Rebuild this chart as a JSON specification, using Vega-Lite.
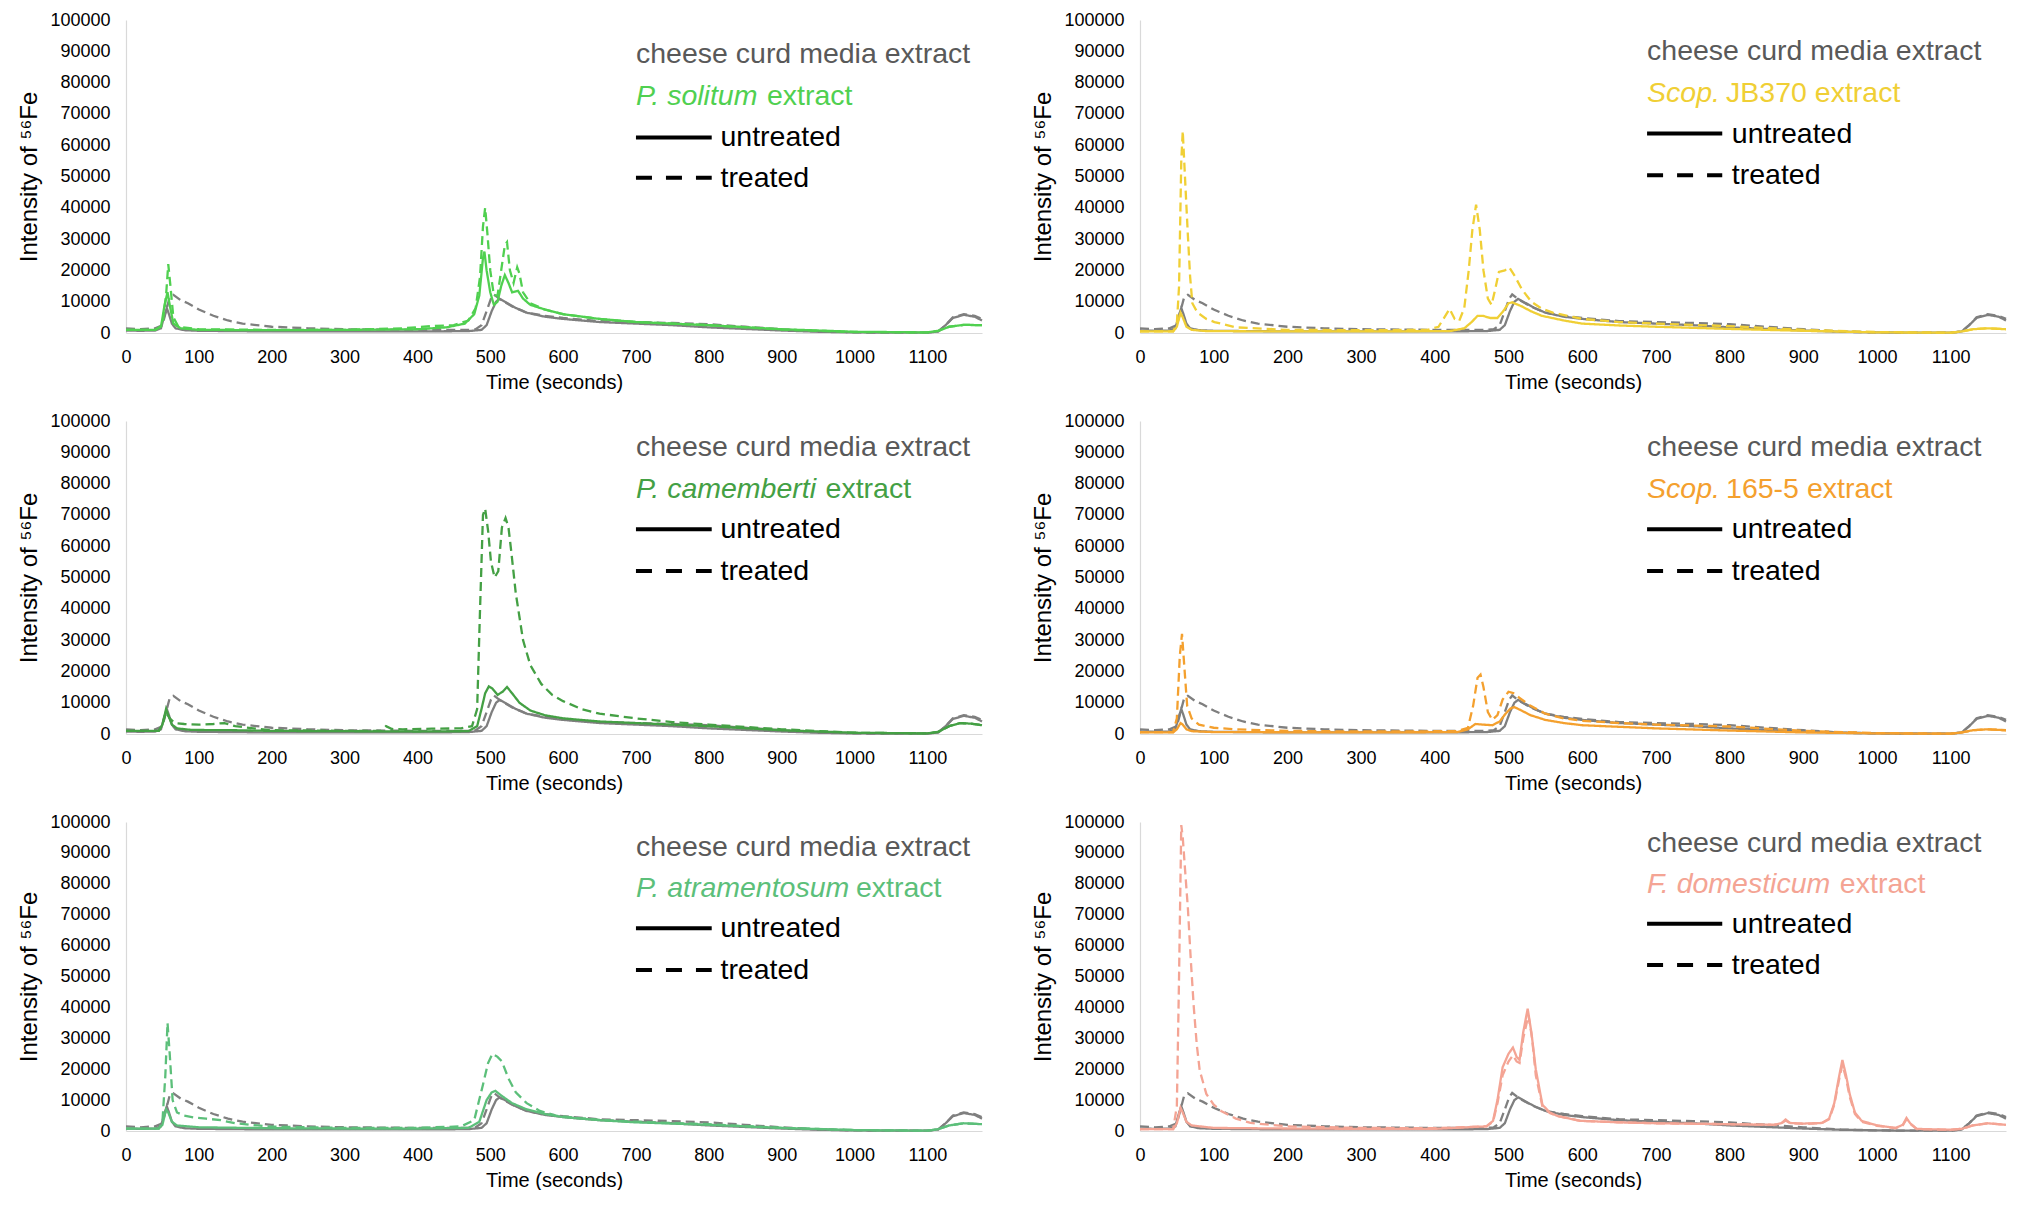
{
"$schema":"https://vega.github.io/schema/vega-lite/v6.json",
"background":"white",
"padding":{"left":17,"top":11,"right":0,"bottom":0},
"columns":2,
"spacing":{"row":20,"column":44},
"config":{"view":{"stroke":null},"font":"Liberation Sans",
"axis":{"grid":false,"ticks":false,"domainColor":"#d9d9d9","domainWidth":1.2,"labelFont":"Liberation Sans","labelFontSize":18,"labelColor":"#000","titleFont":"Liberation Sans","titleFontWeight":"normal","titleColor":"#000","labelFlush":false,"format":"d"},
"axisX":{"tickCount":12,"labelPadding":15,"titlePadding":6,"titleFontSize":20},
"axisY":{"tickCount":10,"labelPadding":16,"titlePadding":8,"titleFontSize":24},
"text":{"font":"Liberation Sans","fontSize":28.5,"align":"left","baseline":"middle"}},
"datasets":{
"grey":[
{"s":"untreated","t":0,"v":800},{"s":"untreated","t":20,"v":700},{"s":"untreated","t":40,"v":800},{"s":"untreated","t":48,"v":1500},{"s":"untreated","t":52,"v":5000},{"s":"untreated","t":56,"v":8000},{"s":"untreated","t":59,"v":6000},{"s":"untreated","t":63,"v":3000},{"s":"untreated","t":68,"v":1500},{"s":"untreated","t":80,"v":900},{"s":"untreated","t":100,"v":700},{"s":"untreated","t":150,"v":600},{"s":"untreated","t":200,"v":500},{"s":"untreated","t":300,"v":500},{"s":"untreated","t":400,"v":500},{"s":"untreated","t":470,"v":600},{"s":"untreated","t":488,"v":1000},{"s":"untreated","t":495,"v":2500},{"s":"untreated","t":502,"v":7000},{"s":"untreated","t":508,"v":10000},{"s":"untreated","t":513,"v":10900},{"s":"untreated","t":520,"v":10000},{"s":"untreated","t":535,"v":8000},{"s":"untreated","t":550,"v":6500},{"s":"untreated","t":575,"v":5200},{"s":"untreated","t":600,"v":4500},{"s":"untreated","t":650,"v":3500},{"s":"untreated","t":700,"v":3000},{"s":"untreated","t":750,"v":2500},{"s":"untreated","t":800,"v":1800},{"s":"untreated","t":850,"v":1300},{"s":"untreated","t":900,"v":800},{"s":"untreated","t":950,"v":400},{"s":"untreated","t":1000,"v":200},{"s":"untreated","t":1050,"v":100},{"s":"untreated","t":1100,"v":100},{"s":"untreated","t":1115,"v":500},{"s":"untreated","t":1125,"v":2500},{"s":"untreated","t":1135,"v":4800},{"s":"untreated","t":1150,"v":5800},{"s":"untreated","t":1165,"v":5200},{"s":"untreated","t":1175,"v":4000},
{"s":"treated","t":0,"v":1500},{"s":"treated","t":20,"v":1200},{"s":"treated","t":40,"v":1500},{"s":"treated","t":50,"v":2500},{"s":"treated","t":55,"v":7000},{"s":"treated","t":60,"v":11500},{"s":"treated","t":65,"v":12200},{"s":"treated","t":75,"v":10500},{"s":"treated","t":85,"v":9500},{"s":"treated","t":100,"v":7500},{"s":"treated","t":120,"v":5500},{"s":"treated","t":140,"v":4000},{"s":"treated","t":160,"v":3000},{"s":"treated","t":200,"v":2000},{"s":"treated","t":250,"v":1500},{"s":"treated","t":300,"v":1200},{"s":"treated","t":400,"v":1000},{"s":"treated","t":470,"v":1000},{"s":"treated","t":480,"v":1200},{"s":"treated","t":488,"v":2500},{"s":"treated","t":495,"v":7000},{"s":"treated","t":501,"v":11000},{"s":"treated","t":505,"v":12300},{"s":"treated","t":515,"v":10500},{"s":"treated","t":530,"v":8500},{"s":"treated","t":550,"v":6500},{"s":"treated","t":575,"v":5500},{"s":"treated","t":600,"v":4800},{"s":"treated","t":650,"v":3800},{"s":"treated","t":700,"v":3500},{"s":"treated","t":750,"v":3200},{"s":"treated","t":800,"v":2800},{"s":"treated","t":850,"v":2000},{"s":"treated","t":900,"v":1200},{"s":"treated","t":950,"v":500},{"s":"treated","t":1000,"v":200},{"s":"treated","t":1050,"v":100},{"s":"treated","t":1100,"v":100},{"s":"treated","t":1115,"v":500},{"s":"treated","t":1125,"v":2500},{"s":"treated","t":1135,"v":5000},{"s":"treated","t":1150,"v":6000},{"s":"treated","t":1165,"v":5500},{"s":"treated","t":1175,"v":4500}],
"p1":[
{"s":"untreated","t":0,"v":1000},{"s":"untreated","t":40,"v":1000},{"s":"untreated","t":48,"v":2000},{"s":"untreated","t":53,"v":9000},{"s":"untreated","t":57,"v":13000},{"s":"untreated","t":60,"v":9000},{"s":"untreated","t":65,"v":3000},{"s":"untreated","t":75,"v":1500},{"s":"untreated","t":100,"v":1000},{"s":"untreated","t":200,"v":900},{"s":"untreated","t":300,"v":1000},{"s":"untreated","t":400,"v":1200},{"s":"untreated","t":440,"v":1800},{"s":"untreated","t":465,"v":3000},{"s":"untreated","t":478,"v":6000},{"s":"untreated","t":485,"v":12000},{"s":"untreated","t":490,"v":24000},{"s":"untreated","t":492,"v":26000},{"s":"untreated","t":495,"v":20000},{"s":"untreated","t":500,"v":13000},{"s":"untreated","t":505,"v":9000},{"s":"untreated","t":510,"v":10000},{"s":"untreated","t":515,"v":15000},{"s":"untreated","t":520,"v":18500},{"s":"untreated","t":525,"v":16000},{"s":"untreated","t":530,"v":13000},{"s":"untreated","t":538,"v":13500},{"s":"untreated","t":545,"v":11000},{"s":"untreated","t":555,"v":9000},{"s":"untreated","t":575,"v":7500},{"s":"untreated","t":600,"v":6000},{"s":"untreated","t":650,"v":4500},{"s":"untreated","t":700,"v":3500},{"s":"untreated","t":800,"v":2500},{"s":"untreated","t":900,"v":1200},{"s":"untreated","t":1000,"v":400},{"s":"untreated","t":1100,"v":200},{"s":"untreated","t":1115,"v":700},{"s":"untreated","t":1130,"v":2000},{"s":"untreated","t":1150,"v":2600},{"s":"untreated","t":1175,"v":2500},
{"s":"treated","t":0,"v":1000},{"s":"treated","t":40,"v":1000},{"s":"treated","t":50,"v":2500},{"s":"treated","t":55,"v":12000},{"s":"treated","t":58,"v":22000},{"s":"treated","t":61,"v":15000},{"s":"treated","t":65,"v":5000},{"s":"treated","t":72,"v":2000},{"s":"treated","t":100,"v":1200},{"s":"treated","t":200,"v":1000},{"s":"treated","t":300,"v":1000},{"s":"treated","t":380,"v":1500},{"s":"treated","t":420,"v":2200},{"s":"treated","t":450,"v":2500},{"s":"treated","t":470,"v":4000},{"s":"treated","t":480,"v":8000},{"s":"treated","t":486,"v":18000},{"s":"treated","t":490,"v":34000},{"s":"treated","t":493,"v":40000},{"s":"treated","t":496,"v":32000},{"s":"treated","t":500,"v":20000},{"s":"treated","t":505,"v":12000},{"s":"treated","t":510,"v":12000},{"s":"treated","t":515,"v":20000},{"s":"treated","t":520,"v":28000},{"s":"treated","t":523,"v":29000},{"s":"treated","t":527,"v":20000},{"s":"treated","t":532,"v":16000},{"s":"treated","t":537,"v":21000},{"s":"treated","t":540,"v":19000},{"s":"treated","t":545,"v":13000},{"s":"treated","t":555,"v":9500},{"s":"treated","t":575,"v":7500},{"s":"treated","t":600,"v":6000},{"s":"treated","t":650,"v":4500},{"s":"treated","t":700,"v":3500},{"s":"treated","t":800,"v":2500},{"s":"treated","t":900,"v":1100},{"s":"treated","t":1000,"v":300},{"s":"treated","t":1100,"v":200},{"s":"treated","t":1115,"v":700},{"s":"treated","t":1130,"v":2000},{"s":"treated","t":1150,"v":2600},{"s":"treated","t":1175,"v":2500}],
"p2":[
{"s":"untreated","t":0,"v":500},{"s":"untreated","t":45,"v":500},{"s":"untreated","t":50,"v":2000},{"s":"untreated","t":55,"v":6500},{"s":"untreated","t":58,"v":5000},{"s":"untreated","t":63,"v":2000},{"s":"untreated","t":70,"v":1000},{"s":"untreated","t":90,"v":600},{"s":"untreated","t":200,"v":500},{"s":"untreated","t":300,"v":500},{"s":"untreated","t":420,"v":600},{"s":"untreated","t":440,"v":1500},{"s":"untreated","t":450,"v":3500},{"s":"untreated","t":458,"v":5500},{"s":"untreated","t":465,"v":5500},{"s":"untreated","t":475,"v":4800},{"s":"untreated","t":485,"v":4800},{"s":"untreated","t":493,"v":7000},{"s":"untreated","t":500,"v":9500},{"s":"untreated","t":505,"v":9800},{"s":"untreated","t":518,"v":8500},{"s":"untreated","t":530,"v":7000},{"s":"untreated","t":545,"v":5500},{"s":"untreated","t":575,"v":4000},{"s":"untreated","t":600,"v":3000},{"s":"untreated","t":650,"v":2400},{"s":"untreated","t":700,"v":2000},{"s":"untreated","t":800,"v":1300},{"s":"untreated","t":900,"v":700},{"s":"untreated","t":1000,"v":200},{"s":"untreated","t":1100,"v":100},{"s":"untreated","t":1115,"v":500},{"s":"untreated","t":1130,"v":1200},{"s":"untreated","t":1150,"v":1500},{"s":"untreated","t":1175,"v":1200},
{"s":"treated","t":0,"v":500},{"s":"treated","t":45,"v":500},{"s":"treated","t":50,"v":3000},{"s":"treated","t":53,"v":15000},{"s":"treated","t":56,"v":55000},{"s":"treated","t":58,"v":64500},{"s":"treated","t":61,"v":50000},{"s":"treated","t":65,"v":31000},{"s":"treated","t":68,"v":18000},{"s":"treated","t":71,"v":9500},{"s":"treated","t":78,"v":6500},{"s":"treated","t":90,"v":4500},{"s":"treated","t":101,"v":3500},{"s":"treated","t":130,"v":1800},{"s":"treated","t":200,"v":1000},{"s":"treated","t":300,"v":900},{"s":"treated","t":390,"v":1000},{"s":"treated","t":405,"v":2000},{"s":"treated","t":413,"v":5000},{"s":"treated","t":420,"v":7700},{"s":"treated","t":427,"v":4500},{"s":"treated","t":433,"v":3800},{"s":"treated","t":440,"v":8000},{"s":"treated","t":446,"v":20000},{"s":"treated","t":451,"v":33000},{"s":"treated","t":456,"v":41000},{"s":"treated","t":461,"v":33000},{"s":"treated","t":466,"v":20000},{"s":"treated","t":472,"v":11000},{"s":"treated","t":477,"v":9000},{"s":"treated","t":482,"v":14000},{"s":"treated","t":487,"v":19500},{"s":"treated","t":495,"v":20000},{"s":"treated","t":501,"v":21000},{"s":"treated","t":509,"v":18000},{"s":"treated","t":518,"v":14000},{"s":"treated","t":531,"v":10000},{"s":"treated","t":545,"v":7800},{"s":"treated","t":560,"v":6500},{"s":"treated","t":580,"v":5500},{"s":"treated","t":600,"v":4500},{"s":"treated","t":650,"v":3500},{"s":"treated","t":700,"v":3000},{"s":"treated","t":800,"v":2200},{"s":"treated","t":900,"v":1000},{"s":"treated","t":1000,"v":300},{"s":"treated","t":1100,"v":100},{"s":"treated","t":1115,"v":500},{"s":"treated","t":1130,"v":1200},{"s":"treated","t":1150,"v":1500},{"s":"treated","t":1175,"v":1200}],
"p3":[
{"s":"untreated","t":0,"v":1000},{"s":"untreated","t":45,"v":1000},{"s":"untreated","t":50,"v":3000},{"s":"untreated","t":55,"v":8000},{"s":"untreated","t":58,"v":6000},{"s":"untreated","t":63,"v":3000},{"s":"untreated","t":70,"v":1800},{"s":"untreated","t":90,"v":1300},{"s":"untreated","t":150,"v":1200},{"s":"untreated","t":200,"v":1000},{"s":"untreated","t":300,"v":900},{"s":"untreated","t":400,"v":800},{"s":"untreated","t":470,"v":900},{"s":"untreated","t":482,"v":2500},{"s":"untreated","t":488,"v":8000},{"s":"untreated","t":493,"v":13000},{"s":"untreated","t":498,"v":15200},{"s":"untreated","t":503,"v":14500},{"s":"untreated","t":510,"v":12500},{"s":"untreated","t":517,"v":13500},{"s":"untreated","t":523,"v":15000},{"s":"untreated","t":530,"v":13000},{"s":"untreated","t":540,"v":10000},{"s":"untreated","t":555,"v":7500},{"s":"untreated","t":575,"v":6000},{"s":"untreated","t":600,"v":5000},{"s":"untreated","t":650,"v":4000},{"s":"untreated","t":700,"v":3500},{"s":"untreated","t":800,"v":2500},{"s":"untreated","t":900,"v":1200},{"s":"untreated","t":1000,"v":400},{"s":"untreated","t":1100,"v":200},{"s":"untreated","t":1115,"v":700},{"s":"untreated","t":1130,"v":2500},{"s":"untreated","t":1145,"v":3500},{"s":"untreated","t":1160,"v":3300},{"s":"untreated","t":1175,"v":2800},
{"s":"treated","t":0,"v":1000},{"s":"treated","t":45,"v":1000},{"s":"treated","t":50,"v":3000},{"s":"treated","t":55,"v":7000},{"s":"treated","t":60,"v":5000},{"s":"treated","t":67,"v":3500},{"s":"treated","t":80,"v":3200},{"s":"treated","t":100,"v":3000},{"s":"treated","t":120,"v":3200},{"s":"treated","t":135,"v":3500},{"s":"treated","t":150,"v":2500},{"s":"treated","t":175,"v":1800},{"s":"treated","t":200,"v":1200},{"s":"treated","t":300,"v":1000},{"s":"treated","t":350,"v":1000},{"s":"treated","t":357,"v":2500},{"s":"treated","t":365,"v":1600},{"s":"treated","t":380,"v":1500},{"s":"treated","t":420,"v":1700},{"s":"treated","t":460,"v":1800},{"s":"treated","t":475,"v":2500},{"s":"treated","t":482,"v":8000},{"s":"treated","t":486,"v":40000},{"s":"treated","t":490,"v":70000},{"s":"treated","t":493,"v":72000},{"s":"treated","t":497,"v":65000},{"s":"treated","t":501,"v":55000},{"s":"treated","t":506,"v":50000},{"s":"treated","t":511,"v":52000},{"s":"treated","t":516,"v":66000},{"s":"treated","t":521,"v":69000},{"s":"treated","t":525,"v":66000},{"s":"treated","t":529,"v":58000},{"s":"treated","t":535,"v":45000},{"s":"treated","t":545,"v":30000},{"s":"treated","t":555,"v":22000},{"s":"treated","t":570,"v":16000},{"s":"treated","t":585,"v":12500},{"s":"treated","t":600,"v":10500},{"s":"treated","t":625,"v":8000},{"s":"treated","t":650,"v":6500},{"s":"treated","t":700,"v":5000},{"s":"treated","t":750,"v":3800},{"s":"treated","t":800,"v":3000},{"s":"treated","t":900,"v":1500},{"s":"treated","t":1000,"v":400},{"s":"treated","t":1100,"v":200},{"s":"treated","t":1115,"v":700},{"s":"treated","t":1130,"v":2500},{"s":"treated","t":1145,"v":3500},{"s":"treated","t":1160,"v":3300},{"s":"treated","t":1175,"v":2800}],
"p4":[
{"s":"untreated","t":0,"v":500},{"s":"untreated","t":45,"v":500},{"s":"untreated","t":50,"v":1500},{"s":"untreated","t":55,"v":3500},{"s":"untreated","t":58,"v":3000},{"s":"untreated","t":63,"v":1500},{"s":"untreated","t":70,"v":900},{"s":"untreated","t":100,"v":600},{"s":"untreated","t":300,"v":500},{"s":"untreated","t":430,"v":600},{"s":"untreated","t":445,"v":1500},{"s":"untreated","t":455,"v":3200},{"s":"untreated","t":465,"v":3000},{"s":"untreated","t":478,"v":2800},{"s":"untreated","t":488,"v":4000},{"s":"untreated","t":496,"v":6500},{"s":"untreated","t":503,"v":8200},{"s":"untreated","t":508,"v":8600},{"s":"untreated","t":515,"v":7800},{"s":"untreated","t":530,"v":6000},{"s":"untreated","t":550,"v":4500},{"s":"untreated","t":575,"v":3500},{"s":"untreated","t":600,"v":2800},{"s":"untreated","t":650,"v":2300},{"s":"untreated","t":700,"v":1800},{"s":"untreated","t":800,"v":1100},{"s":"untreated","t":900,"v":500},{"s":"untreated","t":1000,"v":200},{"s":"untreated","t":1100,"v":100},{"s":"untreated","t":1115,"v":500},{"s":"untreated","t":1130,"v":1200},{"s":"untreated","t":1150,"v":1500},{"s":"untreated","t":1175,"v":1200},
{"s":"treated","t":0,"v":600},{"s":"treated","t":45,"v":600},{"s":"treated","t":50,"v":5000},{"s":"treated","t":54,"v":25000},{"s":"treated","t":57,"v":32000},{"s":"treated","t":60,"v":22000},{"s":"treated","t":64,"v":9000},{"s":"treated","t":70,"v":5000},{"s":"treated","t":80,"v":3000},{"s":"treated","t":100,"v":2000},{"s":"treated","t":130,"v":1500},{"s":"treated","t":200,"v":1000},{"s":"treated","t":300,"v":800},{"s":"treated","t":430,"v":900},{"s":"treated","t":445,"v":2000},{"s":"treated","t":452,"v":9000},{"s":"treated","t":458,"v":18000},{"s":"treated","t":462,"v":19000},{"s":"treated","t":466,"v":15000},{"s":"treated","t":472,"v":7000},{"s":"treated","t":478,"v":4500},{"s":"treated","t":485,"v":6000},{"s":"treated","t":492,"v":11000},{"s":"treated","t":500,"v":13500},{"s":"treated","t":508,"v":13000},{"s":"treated","t":515,"v":11500},{"s":"treated","t":530,"v":9000},{"s":"treated","t":550,"v":6500},{"s":"treated","t":575,"v":5000},{"s":"treated","t":600,"v":4200},{"s":"treated","t":650,"v":3500},{"s":"treated","t":700,"v":3000},{"s":"treated","t":800,"v":2400},{"s":"treated","t":900,"v":1000},{"s":"treated","t":1000,"v":300},{"s":"treated","t":1100,"v":100},{"s":"treated","t":1115,"v":500},{"s":"treated","t":1130,"v":1200},{"s":"treated","t":1150,"v":1500},{"s":"treated","t":1175,"v":1200}],
"p5":[
{"s":"untreated","t":0,"v":800},{"s":"untreated","t":45,"v":800},{"s":"untreated","t":50,"v":2000},{"s":"untreated","t":55,"v":7000},{"s":"untreated","t":58,"v":6000},{"s":"untreated","t":63,"v":3000},{"s":"untreated","t":70,"v":1800},{"s":"untreated","t":100,"v":1200},{"s":"untreated","t":200,"v":900},{"s":"untreated","t":300,"v":800},{"s":"untreated","t":400,"v":800},{"s":"untreated","t":470,"v":1000},{"s":"untreated","t":485,"v":3000},{"s":"untreated","t":495,"v":10000},{"s":"untreated","t":502,"v":12500},{"s":"untreated","t":507,"v":13000},{"s":"untreated","t":515,"v":11500},{"s":"untreated","t":530,"v":9000},{"s":"untreated","t":550,"v":7000},{"s":"untreated","t":575,"v":5500},{"s":"untreated","t":600,"v":4500},{"s":"untreated","t":650,"v":3500},{"s":"untreated","t":700,"v":2800},{"s":"untreated","t":800,"v":2000},{"s":"untreated","t":900,"v":1000},{"s":"untreated","t":1000,"v":300},{"s":"untreated","t":1100,"v":100},{"s":"untreated","t":1115,"v":600},{"s":"untreated","t":1130,"v":1800},{"s":"untreated","t":1150,"v":2500},{"s":"untreated","t":1175,"v":2200},
{"s":"treated","t":0,"v":800},{"s":"treated","t":45,"v":800},{"s":"treated","t":50,"v":3000},{"s":"treated","t":54,"v":18000},{"s":"treated","t":57,"v":35000},{"s":"treated","t":60,"v":25000},{"s":"treated","t":64,"v":10000},{"s":"treated","t":70,"v":6000},{"s":"treated","t":80,"v":5000},{"s":"treated","t":95,"v":4300},{"s":"treated","t":110,"v":4000},{"s":"treated","t":130,"v":3500},{"s":"treated","t":150,"v":2500},{"s":"treated","t":180,"v":1800},{"s":"treated","t":200,"v":1400},{"s":"treated","t":300,"v":1000},{"s":"treated","t":400,"v":1000},{"s":"treated","t":460,"v":1500},{"s":"treated","t":478,"v":3500},{"s":"treated","t":490,"v":15000},{"s":"treated","t":497,"v":22000},{"s":"treated","t":503,"v":25000},{"s":"treated","t":510,"v":24000},{"s":"treated","t":516,"v":22500},{"s":"treated","t":525,"v":17000},{"s":"treated","t":535,"v":12500},{"s":"treated","t":550,"v":9000},{"s":"treated","t":568,"v":6500},{"s":"treated","t":590,"v":5000},{"s":"treated","t":620,"v":4200},{"s":"treated","t":650,"v":3600},{"s":"treated","t":700,"v":3000},{"s":"treated","t":800,"v":2200},{"s":"treated","t":900,"v":1000},{"s":"treated","t":1000,"v":300},{"s":"treated","t":1100,"v":100},{"s":"treated","t":1115,"v":600},{"s":"treated","t":1130,"v":1800},{"s":"treated","t":1150,"v":2500},{"s":"treated","t":1175,"v":2200}],
"p6":[
{"s":"untreated","t":0,"v":600},{"s":"untreated","t":45,"v":600},{"s":"untreated","t":50,"v":2500},{"s":"untreated","t":55,"v":7500},{"s":"untreated","t":58,"v":6000},{"s":"untreated","t":63,"v":3000},{"s":"untreated","t":70,"v":1800},{"s":"untreated","t":100,"v":1000},{"s":"untreated","t":200,"v":800},{"s":"untreated","t":300,"v":700},{"s":"untreated","t":400,"v":700},{"s":"untreated","t":470,"v":1500},{"s":"untreated","t":479,"v":3300},{"s":"untreated","t":485,"v":10000},{"s":"untreated","t":492,"v":20600},{"s":"untreated","t":500,"v":25000},{"s":"untreated","t":506,"v":27000},{"s":"untreated","t":511,"v":24000},{"s":"untreated","t":515,"v":23000},{"s":"untreated","t":520,"v":32000},{"s":"untreated","t":526,"v":39600},{"s":"untreated","t":531,"v":32000},{"s":"untreated","t":537,"v":20000},{"s":"untreated","t":546,"v":8500},{"s":"untreated","t":556,"v":6000},{"s":"untreated","t":566,"v":4900},{"s":"untreated","t":597,"v":3300},{"s":"untreated","t":650,"v":2800},{"s":"untreated","t":700,"v":2500},{"s":"untreated","t":800,"v":2200},{"s":"untreated","t":860,"v":2000},{"s":"untreated","t":870,"v":2500},{"s":"untreated","t":876,"v":3700},{"s":"untreated","t":882,"v":2600},{"s":"untreated","t":900,"v":2400},{"s":"untreated","t":925,"v":2600},{"s":"untreated","t":935,"v":4000},{"s":"untreated","t":942,"v":9000},{"s":"untreated","t":948,"v":17000},{"s":"untreated","t":953,"v":23000},{"s":"untreated","t":958,"v":18000},{"s":"untreated","t":963,"v":11900},{"s":"untreated","t":970,"v":6000},{"s":"untreated","t":979,"v":3300},{"s":"untreated","t":1000,"v":1800},{"s":"untreated","t":1025,"v":1000},{"s":"untreated","t":1035,"v":2000},{"s":"untreated","t":1040,"v":4200},{"s":"untreated","t":1045,"v":2500},{"s":"untreated","t":1054,"v":700},{"s":"untreated","t":1080,"v":500},{"s":"untreated","t":1100,"v":400},{"s":"untreated","t":1115,"v":700},{"s":"untreated","t":1130,"v":1800},{"s":"untreated","t":1150,"v":2500},{"s":"untreated","t":1175,"v":2000},
{"s":"treated","t":0,"v":600},{"s":"treated","t":45,"v":600},{"s":"treated","t":50,"v":8000},{"s":"treated","t":53,"v":50000},{"s":"treated","t":56,"v":99000},{"s":"treated","t":58,"v":95000},{"s":"treated","t":61,"v":85000},{"s":"treated","t":65,"v":72000},{"s":"treated","t":69,"v":55000},{"s":"treated","t":73,"v":40000},{"s":"treated","t":77,"v":28000},{"s":"treated","t":81,"v":19600},{"s":"treated","t":90,"v":12000},{"s":"treated","t":100,"v":8500},{"s":"treated","t":110,"v":6500},{"s":"treated","t":130,"v":4000},{"s":"treated","t":150,"v":2600},{"s":"treated","t":200,"v":1500},{"s":"treated","t":300,"v":1000},{"s":"treated","t":400,"v":900},{"s":"treated","t":470,"v":1500},{"s":"treated","t":479,"v":3000},{"s":"treated","t":485,"v":9000},{"s":"treated","t":492,"v":18000},{"s":"treated","t":500,"v":22500},{"s":"treated","t":506,"v":24500},{"s":"treated","t":511,"v":22500},{"s":"treated","t":515,"v":22000},{"s":"treated","t":520,"v":30000},{"s":"treated","t":527,"v":37500},{"s":"treated","t":532,"v":30000},{"s":"treated","t":537,"v":18000},{"s":"treated","t":546,"v":8000},{"s":"treated","t":556,"v":5800},{"s":"treated","t":566,"v":4800},{"s":"treated","t":597,"v":3300},{"s":"treated","t":650,"v":2800},{"s":"treated","t":700,"v":2500},{"s":"treated","t":800,"v":2200},{"s":"treated","t":860,"v":2000},{"s":"treated","t":870,"v":2400},{"s":"treated","t":876,"v":3400},{"s":"treated","t":882,"v":2500},{"s":"treated","t":900,"v":2300},{"s":"treated","t":925,"v":2500},{"s":"treated","t":935,"v":3800},{"s":"treated","t":942,"v":8500},{"s":"treated","t":948,"v":16000},{"s":"treated","t":953,"v":21500},{"s":"treated","t":958,"v":17000},{"s":"treated","t":963,"v":11000},{"s":"treated","t":970,"v":5500},{"s":"treated","t":979,"v":3000},{"s":"treated","t":1000,"v":1700},{"s":"treated","t":1025,"v":900},{"s":"treated","t":1035,"v":1800},{"s":"treated","t":1040,"v":3800},{"s":"treated","t":1045,"v":2300},{"s":"treated","t":1054,"v":600},{"s":"treated","t":1080,"v":500},{"s":"treated","t":1100,"v":400},{"s":"treated","t":1115,"v":700},{"s":"treated","t":1130,"v":1800},{"s":"treated","t":1150,"v":2500},{"s":"treated","t":1175,"v":2000}]
},
"concat":[
{"width":856,"height":313,"layer":[
{"data":{"name":"grey"},"mark":{"type":"line","color":"#7f7f7f","strokeWidth":2.3},"encoding":{"x":{"field":"t","type":"quantitative","scale":{"domain":[0,1175],"nice":false},"axis":{"title":"Time (seconds)"}},"y":{"field":"v","type":"quantitative","scale":{"domain":[0,100000],"nice":false},"axis":{"title":"Intensity of ⁵⁶Fe"}},"strokeDash":{"field":"s","type":"nominal","scale":{"domain":["untreated","treated"],"range":[[1,0],[9,5]]},"legend":null}}},
{"data":{"name":"p1"},"mark":{"type":"line","color":"#50d050","strokeWidth":2.3},"encoding":{"x":{"field":"t","type":"quantitative"},"y":{"field":"v","type":"quantitative"},"strokeDash":{"field":"s","type":"nominal","legend":null}}},
{"data":{"values":[{}]},"mark":{"type":"text","color":"#595959"},"encoding":{"x":{"datum":700},"y":{"datum":89200},"text":{"value":"cheese curd media extract"}}},
{"data":{"values":[{}]},"mark":{"type":"text","color":"#50d050","fontStyle":"italic"},"encoding":{"x":{"datum":700},"y":{"datum":75800},"text":{"value":"P. solitum"}}},
{"data":{"values":[{}]},"mark":{"type":"text","color":"#50d050","dx":131},"encoding":{"x":{"datum":700},"y":{"datum":75800},"text":{"value":"extract"}}},
{"data":{"values":[{}]},"mark":{"type":"rule","color":"#000","strokeWidth":4},"encoding":{"x":{"datum":700},"x2":{"datum":804},"y":{"datum":62500}}},
{"data":{"values":[{}]},"mark":{"type":"rule","color":"#000","strokeWidth":4,"strokeDash":[16,14]},"encoding":{"x":{"datum":700},"x2":{"datum":804},"y":{"datum":49600}}},
{"data":{"values":[{}]},"mark":{"type":"text","color":"#000"},"encoding":{"x":{"datum":816},"y":{"datum":62500},"text":{"value":"untreated"}}},
{"data":{"values":[{}]},"mark":{"type":"text","color":"#000"},"encoding":{"x":{"datum":816},"y":{"datum":49600},"text":{"value":"treated"}}}
]},
{"width":866,"height":313,"layer":[
{"data":{"name":"grey"},"mark":{"type":"line","color":"#7f7f7f","strokeWidth":2.3},"encoding":{"x":{"field":"t","type":"quantitative","scale":{"domain":[0,1175],"nice":false},"axis":{"title":"Time (seconds)"}},"y":{"field":"v","type":"quantitative","scale":{"domain":[0,100000],"nice":false},"axis":{"title":"Intensity of ⁵⁶Fe"}},"strokeDash":{"field":"s","type":"nominal","scale":{"domain":["untreated","treated"],"range":[[1,0],[9,5]]},"legend":null}}},
{"data":{"name":"p2"},"mark":{"type":"line","color":"#f0cf35","strokeWidth":2.3},"encoding":{"x":{"field":"t","type":"quantitative"},"y":{"field":"v","type":"quantitative"},"strokeDash":{"field":"s","type":"nominal","legend":null}}},
{"data":{"values":[{}]},"mark":{"type":"text","color":"#595959"},"encoding":{"x":{"datum":688},"y":{"datum":90000},"text":{"value":"cheese curd media extract"}}},
{"data":{"values":[{}]},"mark":{"type":"text","color":"#f0cf35","fontStyle":"italic"},"encoding":{"x":{"datum":688},"y":{"datum":76700},"text":{"value":"Scop."}}},
{"data":{"values":[{}]},"mark":{"type":"text","color":"#f0cf35","dx":79},"encoding":{"x":{"datum":688},"y":{"datum":76700},"text":{"value":"JB370 extract"}}},
{"data":{"values":[{}]},"mark":{"type":"rule","color":"#000","strokeWidth":4},"encoding":{"x":{"datum":688},"x2":{"datum":790},"y":{"datum":63700}}},
{"data":{"values":[{}]},"mark":{"type":"rule","color":"#000","strokeWidth":4,"strokeDash":[16,14]},"encoding":{"x":{"datum":688},"x2":{"datum":790},"y":{"datum":50400}}},
{"data":{"values":[{}]},"mark":{"type":"text","color":"#000"},"encoding":{"x":{"datum":803},"y":{"datum":63700},"text":{"value":"untreated"}}},
{"data":{"values":[{}]},"mark":{"type":"text","color":"#000"},"encoding":{"x":{"datum":803},"y":{"datum":50400},"text":{"value":"treated"}}}
]},
{"width":856,"height":313,"layer":[
{"data":{"name":"grey"},"mark":{"type":"line","color":"#7f7f7f","strokeWidth":2.3},"encoding":{"x":{"field":"t","type":"quantitative","scale":{"domain":[0,1175],"nice":false},"axis":{"title":"Time (seconds)"}},"y":{"field":"v","type":"quantitative","scale":{"domain":[0,100000],"nice":false},"axis":{"title":"Intensity of ⁵⁶Fe"}},"strokeDash":{"field":"s","type":"nominal","scale":{"domain":["untreated","treated"],"range":[[1,0],[9,5]]},"legend":null}}},
{"data":{"name":"p3"},"mark":{"type":"line","color":"#44a044","strokeWidth":2.3},"encoding":{"x":{"field":"t","type":"quantitative"},"y":{"field":"v","type":"quantitative"},"strokeDash":{"field":"s","type":"nominal","legend":null}}},
{"data":{"values":[{}]},"mark":{"type":"text","color":"#595959"},"encoding":{"x":{"datum":700},"y":{"datum":91700},"text":{"value":"cheese curd media extract"}}},
{"data":{"values":[{}]},"mark":{"type":"text","color":"#44a044","fontStyle":"italic"},"encoding":{"x":{"datum":700},"y":{"datum":78300},"text":{"value":"P. camemberti"}}},
{"data":{"values":[{}]},"mark":{"type":"text","color":"#44a044","dx":189.6},"encoding":{"x":{"datum":700},"y":{"datum":78300},"text":{"value":"extract"}}},
{"data":{"values":[{}]},"mark":{"type":"rule","color":"#000","strokeWidth":4},"encoding":{"x":{"datum":700},"x2":{"datum":804},"y":{"datum":65400}}},
{"data":{"values":[{}]},"mark":{"type":"rule","color":"#000","strokeWidth":4,"strokeDash":[16,14]},"encoding":{"x":{"datum":700},"x2":{"datum":804},"y":{"datum":52100}}},
{"data":{"values":[{}]},"mark":{"type":"text","color":"#000"},"encoding":{"x":{"datum":816},"y":{"datum":65400},"text":{"value":"untreated"}}},
{"data":{"values":[{}]},"mark":{"type":"text","color":"#000"},"encoding":{"x":{"datum":816},"y":{"datum":52100},"text":{"value":"treated"}}}
]},
{"width":866,"height":313,"layer":[
{"data":{"name":"grey"},"mark":{"type":"line","color":"#7f7f7f","strokeWidth":2.3},"encoding":{"x":{"field":"t","type":"quantitative","scale":{"domain":[0,1175],"nice":false},"axis":{"title":"Time (seconds)"}},"y":{"field":"v","type":"quantitative","scale":{"domain":[0,100000],"nice":false},"axis":{"title":"Intensity of ⁵⁶Fe"}},"strokeDash":{"field":"s","type":"nominal","scale":{"domain":["untreated","treated"],"range":[[1,0],[9,5]]},"legend":null}}},
{"data":{"name":"p4"},"mark":{"type":"line","color":"#f4a02e","strokeWidth":2.3},"encoding":{"x":{"field":"t","type":"quantitative"},"y":{"field":"v","type":"quantitative"},"strokeDash":{"field":"s","type":"nominal","legend":null}}},
{"data":{"values":[{}]},"mark":{"type":"text","color":"#595959"},"encoding":{"x":{"datum":688},"y":{"datum":91700},"text":{"value":"cheese curd media extract"}}},
{"data":{"values":[{}]},"mark":{"type":"text","color":"#f4a02e","fontStyle":"italic"},"encoding":{"x":{"datum":688},"y":{"datum":78300},"text":{"value":"Scop."}}},
{"data":{"values":[{}]},"mark":{"type":"text","color":"#f4a02e","dx":79},"encoding":{"x":{"datum":688},"y":{"datum":78300},"text":{"value":"165-5 extract"}}},
{"data":{"values":[{}]},"mark":{"type":"rule","color":"#000","strokeWidth":4},"encoding":{"x":{"datum":688},"x2":{"datum":790},"y":{"datum":65400}}},
{"data":{"values":[{}]},"mark":{"type":"rule","color":"#000","strokeWidth":4,"strokeDash":[16,14]},"encoding":{"x":{"datum":688},"x2":{"datum":790},"y":{"datum":52100}}},
{"data":{"values":[{}]},"mark":{"type":"text","color":"#000"},"encoding":{"x":{"datum":803},"y":{"datum":65400},"text":{"value":"untreated"}}},
{"data":{"values":[{}]},"mark":{"type":"text","color":"#000"},"encoding":{"x":{"datum":803},"y":{"datum":52100},"text":{"value":"treated"}}}
]},
{"width":856,"height":309,"layer":[
{"data":{"name":"grey"},"mark":{"type":"line","color":"#7f7f7f","strokeWidth":2.3},"encoding":{"x":{"field":"t","type":"quantitative","scale":{"domain":[0,1175],"nice":false},"axis":{"title":"Time (seconds)"}},"y":{"field":"v","type":"quantitative","scale":{"domain":[0,100000],"nice":false},"axis":{"title":"Intensity of ⁵⁶Fe"}},"strokeDash":{"field":"s","type":"nominal","scale":{"domain":["untreated","treated"],"range":[[1,0],[9,5]]},"legend":null}}},
{"data":{"name":"p5"},"mark":{"type":"line","color":"#5cbf7a","strokeWidth":2.3},"encoding":{"x":{"field":"t","type":"quantitative"},"y":{"field":"v","type":"quantitative"},"strokeDash":{"field":"s","type":"nominal","legend":null}}},
{"data":{"values":[{}]},"mark":{"type":"text","color":"#595959"},"encoding":{"x":{"datum":700},"y":{"datum":92000},"text":{"value":"cheese curd media extract"}}},
{"data":{"values":[{}]},"mark":{"type":"text","color":"#5cbf7a","fontStyle":"italic"},"encoding":{"x":{"datum":700},"y":{"datum":78600},"text":{"value":"P. atramentosum"}}},
{"data":{"values":[{}]},"mark":{"type":"text","color":"#5cbf7a","dx":220},"encoding":{"x":{"datum":700},"y":{"datum":78600},"text":{"value":"extract"}}},
{"data":{"values":[{}]},"mark":{"type":"rule","color":"#000","strokeWidth":4},"encoding":{"x":{"datum":700},"x2":{"datum":804},"y":{"datum":65600}}},
{"data":{"values":[{}]},"mark":{"type":"rule","color":"#000","strokeWidth":4,"strokeDash":[16,14]},"encoding":{"x":{"datum":700},"x2":{"datum":804},"y":{"datum":52100}}},
{"data":{"values":[{}]},"mark":{"type":"text","color":"#000"},"encoding":{"x":{"datum":816},"y":{"datum":65600},"text":{"value":"untreated"}}},
{"data":{"values":[{}]},"mark":{"type":"text","color":"#000"},"encoding":{"x":{"datum":816},"y":{"datum":52100},"text":{"value":"treated"}}}
]},
{"width":866,"height":309,"layer":[
{"data":{"name":"grey"},"mark":{"type":"line","color":"#7f7f7f","strokeWidth":2.3},"encoding":{"x":{"field":"t","type":"quantitative","scale":{"domain":[0,1175],"nice":false},"axis":{"title":"Time (seconds)"}},"y":{"field":"v","type":"quantitative","scale":{"domain":[0,100000],"nice":false},"axis":{"title":"Intensity of ⁵⁶Fe"}},"strokeDash":{"field":"s","type":"nominal","scale":{"domain":["untreated","treated"],"range":[[1,0],[9,5]]},"legend":null}}},
{"data":{"name":"p6"},"mark":{"type":"line","color":"#f4a494","strokeWidth":2.3},"encoding":{"x":{"field":"t","type":"quantitative"},"y":{"field":"v","type":"quantitative"},"strokeDash":{"field":"s","type":"nominal","legend":null}}},
{"data":{"values":[{}]},"mark":{"type":"text","color":"#595959"},"encoding":{"x":{"datum":688},"y":{"datum":93300},"text":{"value":"cheese curd media extract"}}},
{"data":{"values":[{}]},"mark":{"type":"text","color":"#f4a494","fontStyle":"italic"},"encoding":{"x":{"datum":688},"y":{"datum":80000},"text":{"value":"F. domesticum"}}},
{"data":{"values":[{}]},"mark":{"type":"text","color":"#f4a494","dx":192.8},"encoding":{"x":{"datum":688},"y":{"datum":80000},"text":{"value":"extract"}}},
{"data":{"values":[{}]},"mark":{"type":"rule","color":"#000","strokeWidth":4},"encoding":{"x":{"datum":688},"x2":{"datum":790},"y":{"datum":67100}}},
{"data":{"values":[{}]},"mark":{"type":"rule","color":"#000","strokeWidth":4,"strokeDash":[16,14]},"encoding":{"x":{"datum":688},"x2":{"datum":790},"y":{"datum":53700}}},
{"data":{"values":[{}]},"mark":{"type":"text","color":"#000"},"encoding":{"x":{"datum":803},"y":{"datum":67100},"text":{"value":"untreated"}}},
{"data":{"values":[{}]},"mark":{"type":"text","color":"#000"},"encoding":{"x":{"datum":803},"y":{"datum":53700},"text":{"value":"treated"}}}
]}
]
}
